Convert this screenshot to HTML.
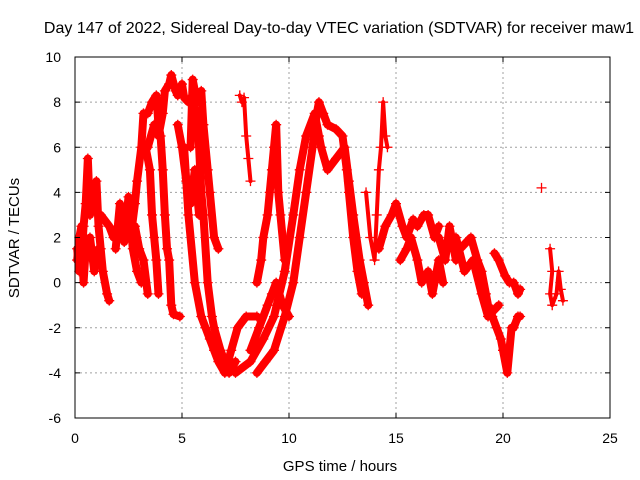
<!DOCTYPE html>
<html><head><meta charset="utf-8"><style>
body{margin:0;background:#fff}
svg{display:block;font-family:"Liberation Sans",sans-serif}
</style></head><body>
<svg id="c" width="640" height="480">
<text x="339" y="33" font-size="16" text-anchor="middle">Day 147 of 2022, Sidereal Day-to-day VTEC variation (SDTVAR) for receiver maw1</text>
<text x="340" y="471" font-size="15" text-anchor="middle">GPS time / hours</text>
<text transform="translate(19,238) rotate(-90)" font-size="15" text-anchor="middle">SDTVAR / TECUs</text>
<g id="grid"></g><g id="data"></g>
<rect x="75" y="57" width="535" height="361" fill="none" stroke="#000"/>
<g id="ticks"></g>
</svg>
<script>
const xTicks=[0,5,10,15,20,25];
const yTicks=[-6,-4,-2,0,2,4,6,8,10];
const trackA=[[0.1,1.5],[0.2,0.5],[0.3,1],[0.4,2.5],[0.5,3.5],[0.6,5.5],[0.7,3],[0.8,4],[0.9,3.5],[1.0,4.5],[1.1,2.5],[1.2,1.5],[1.3,0.5],[1.5,-0.5],[1.6,-0.8]];
const trackA2=[[0.1,1],[0.2,2],[0.3,2.5],[0.4,0],[0.5,1.5],[0.7,2],[0.9,0.5],[1.1,1.5]];
const trackB=[[1.2,3],[1.6,2.5],[1.8,2],[2.0,2.5],[2.2,3],[2.4,2],[2.6,2.5],[2.8,2.5],[3.0,1.5],[3.2,1],[3.4,-0.5]];
const trackB2=[[1.9,1.5],[2.1,3.5],[2.3,1.8],[2.5,3.8],[2.7,1.5],[2.9,0.5],[3.1,0]];
const trackC=[[2.6,2],[2.8,3.5],[2.9,4.5],[3.1,6],[3.2,7.5],[3.4,7.5],[3.6,8],[3.8,8.3],[3.9,7],[4.0,6.5],[4.1,5],[4.2,3],[4.3,1.5],[4.4,1],[4.5,-1],[4.6,-1.4],[4.9,-1.5]];
const trackC2=[[3.3,6],[3.5,5],[3.6,3],[3.7,2],[3.8,1],[3.9,-0.5]];
const trackD=[[3.4,6],[3.7,7],[3.9,6.5],[4.1,7.5],[4.2,8.5],[4.4,8.8],[4.5,9.2],[4.7,8.5],[4.8,8.3],[5.0,8.8],[5.1,8.2],[5.3,8],[5.5,8.3],[5.7,7],[5.8,6],[5.9,4],[6.0,3],[6.2,0],[6.4,-1.5],[6.5,-2],[6.8,-3],[7.0,-3.5],[7.2,-4],[7.5,-3.5]];
const trackE=[[5.4,6],[5.5,9],[5.7,8],[5.9,8.5],[6.0,7],[6.2,5],[6.3,4],[6.5,2],[6.7,1.5]];
const trackE2=[[4.8,7],[5.0,6],[5.2,4.5],[5.4,3.5],[5.6,5],[5.8,3]];
const trackF=[[5.1,6],[5.3,3],[5.6,0],[5.9,-1.5],[6.1,-2],[6.3,-2.5],[6.5,-3],[6.7,-3.5],[7.0,-4],[7.3,-3],[7.6,-2],[8.0,-1.5],[8.5,-1.5]];
const trackG=[[7.7,8.3],[7.8,8],[7.9,8.2],[8.0,6.5],[8.1,5.5],[8.2,4.5]];
const trackH=[[8.2,-3],[8.6,-2],[9.0,-1],[9.2,-0.5],[9.4,0],[9.7,-1],[10,-1.5]];
const trackI=[[8.5,-4],[8.9,-3.5],[9.3,-3],[9.8,-1.5],[10.2,0],[10.5,2],[10.8,4],[11.1,6],[11.3,7.5],[11.4,8],[11.6,7.5],[11.8,7],[12.2,6.8],[12.5,6.5],[12.7,5],[12.8,4],[13.0,2],[13.2,0.5],[13.4,-0.5]];
const trackJ=[[7.5,-4],[8.2,-3.5],[8.8,-2.5],[9.3,-1.5],[9.8,0.5],[10.2,3],[10.5,5],[10.8,6.5],[11.2,7.5],[11.4,6.5],[11.5,6],[11.8,5],[12.2,5.5],[12.6,6],[12.8,4.5],[13,3],[13.3,1],[13.5,0],[13.7,-1]];
const trackK=[[8.5,0],[8.7,1],[8.8,2],[9.0,3],[9.1,4],[9.2,5],[9.3,6],[9.4,7],[9.5,4],[9.6,3],[9.8,1]];
const trackL=[[13.6,4],[13.8,2],[14,1],[14.1,3],[14.2,5],[14.3,6],[14.4,8],[14.5,6.5],[14.6,6]];
const trackM=[[14.2,1.5],[14.5,2.5],[14.8,3],[15,3.5],[15.3,2.5],[15.5,2],[15.8,2.8],[16,2.5],[16.3,3],[16.5,3],[16.8,2],[17,2.5]];
const trackN=[[15.2,1],[15.5,1.5],[15.7,2],[16.0,1],[16.2,0],[16.5,0.5],[16.7,-0.5],[17,1],[17.2,0]];
const trackO=[[17,2],[17.3,1],[17.5,2.5],[17.8,1],[18,1.5],[18.3,1.8],[18.5,2],[18.8,1],[19,0.5],[19.2,-0.5],[19.3,-1],[19.5,-1.5],[19.7,-2],[19.9,-2.5],[20,-3],[20.2,-4],[20.4,-2],[20.5,-2],[20.7,-1.5],[20.8,-1.5]];
const trackO2=[[17.8,2],[18.2,0.5],[18.6,1],[19,-0.5],[19.3,-1.5],[19.6,-1.2],[19.8,-1]];
const trackP=[[19.6,1.3],[19.8,1],[20.1,0.3],[20.3,0],[20.5,0],[20.7,-0.5],[20.8,-0.3]];
const trackQ=[[21.8,4.2]];
const trackR=[[22.2,1.5],[22.3,0.5],[22.2,-0.5],[22.3,-1],[22.5,-0.5],[22.6,0.5],[22.7,-0.3],[22.8,-0.8]];
const thick=[trackA,trackA2,trackB,trackB2,trackC,trackC2,trackD,trackE,trackE2,trackF,trackH,trackI,trackJ,trackK,trackM,trackN,trackO,trackO2,trackP];
const thin=[trackG,trackL,trackQ,trackR];
const NS="http://www.w3.org/2000/svg";
const X=t=>75+t*535/25, Y=v=>418-(v+6)*361/16;
const grid=document.getElementById('grid'),tk=document.getElementById('ticks'),dg=document.getElementById('data');
function mk(tag,a,p){const e=document.createElementNS(NS,tag);for(const k in a)e.setAttribute(k,a[k]);p.appendChild(e);return e;}
xTicks.forEach(t=>{const x=X(t);
 if(t>0&&t<25){const g=mk('line',{x1:x,x2:x,y1:57,y2:418,stroke:'#a0a0a0','stroke-dasharray':'2,3'},grid);
 
 }
 const l=mk('text',{x:x,y:443,'font-size':14,'text-anchor':'middle'},tk);l.textContent=t;
 
 
 mk('line',{x1:x,x2:x,y1:418,y2:413,stroke:'#000'},tk);mk('line',{x1:x,x2:x,y1:57,y2:62,stroke:'#000'},tk);});
yTicks.forEach(v=>{const y=Y(v);
 if(v>-6&&v<10){const g=mk('line',{x1:75,x2:610,y1:y,y2:y,stroke:'#a0a0a0','stroke-dasharray':'2,3'},grid);
 
 }
 const l=mk('text',{x:61,y:y+5,'font-size':14,'text-anchor':'end'},tk);l.textContent=v;
 
 
 mk('line',{x1:75,x2:80,y1:y,y2:y,stroke:'#000'},tk);mk('line',{x1:610,x2:605,y1:y,y2:y,stroke:'#000'},tk);});
function draw(tr,w){
 if(tr.length>1){const p=mk('polyline',{points:tr.map(d=>X(d[0])+','+Y(d[1])).join(' '),fill:'none',stroke:'#f00','stroke-width':w,'stroke-linejoin':'round','stroke-linecap':'round'},dg);
 
 }
 tr.forEach(d=>{const x=X(d[0]),y=Y(d[1]);
  const m=mk('path',{d:`M${x-5},${y}h10M${x},${y-5}v10`,stroke:'#f00','stroke-width':1.3},dg);
  
  });
}
thick.forEach(t=>draw(t,8));
thin.forEach(t=>draw(t,4));
</script>
</body></html>
